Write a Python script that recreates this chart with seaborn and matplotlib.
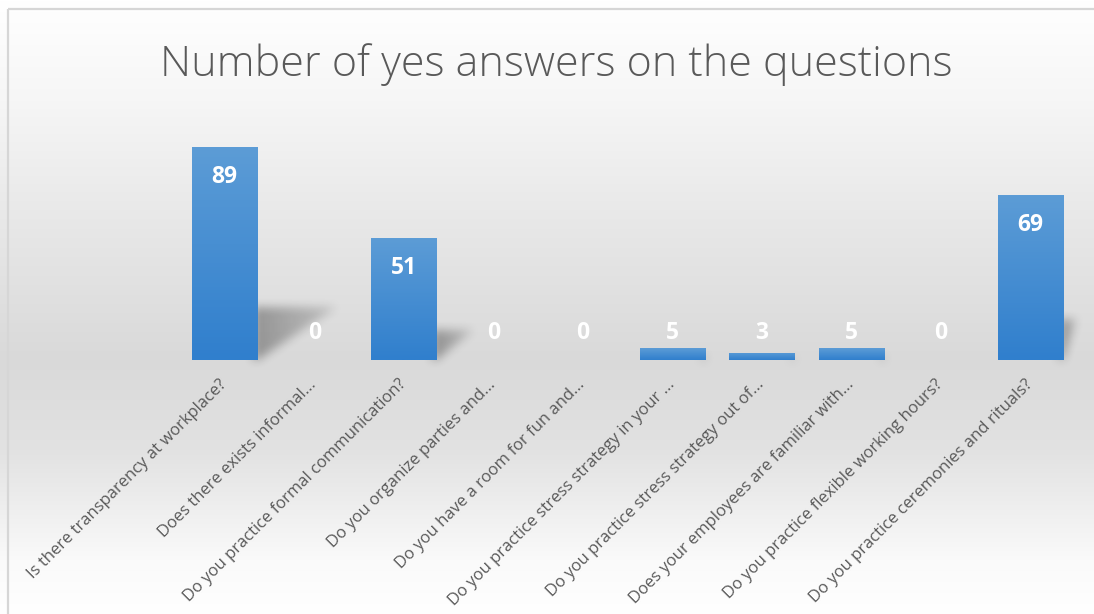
import numpy as np
import matplotlib
matplotlib.use("Agg")
import matplotlib.pyplot as plt
import seaborn as sns
from matplotlib.path import Path

# ---------------- data ----------------
questions = [
    "Is there transparency at workplace?",
    "Does there exists informal...",
    "Do you practice formal communication?",
    "Do you organize parties and...",
    "Do you have a room for fun and...",
    "Do you practice stress strategy in your ...",
    "Do you practice stress strategy out of...",
    "Does your employees are familiar with...",
    "Do you practice flexible working hours?",
    "Do you practice ceremonies and rituals?",
]
yes_counts = [89, 0, 51, 0, 0, 5, 3, 5, 0, 69]
title = "Number of yes answers on the questions"

# ---------------- style ----------------
sns.set_theme(style="white")
plt.rcParams["font.family"] = ["Open Sans", "DejaVu Sans"]

W, H = 1094, 614
fig = plt.figure(figsize=(W / 100, H / 100), dpi=100)

# background gradient (figure level)
bg = fig.add_axes([0, 0, 1, 1], zorder=-10)
bg.set_axis_off()
yy = np.arange(H)
prof_y = [0, 100, 200, 360, 450, 560, 614]
prof_v = [255, 246, 234, 217, 226, 250, 255]
col = np.interp(yy, prof_y, prof_v) / 255.0
grad = np.repeat(col[:, None], W, axis=1)
bg_img = np.dstack([grad, grad, grad])
bg.imshow(bg_img, extent=[0, W, 0, H], origin="upper", aspect="auto", zorder=0)
bg.set_xlim(0, W)
bg.set_ylim(0, H)
# frame lines
bg.plot([8, 8], [0, H - 9], color="#d6d6d6", lw=1.6, zorder=2, solid_capstyle="butt")
bg.plot([8, W], [H - 9, H - 9], color="#d6d6d6", lw=1.6, zorder=2, solid_capstyle="butt")

# main axes
ax = fig.add_axes([180 / W, (H - 360) / H, 895 / W, 239 / H])
ax.set_facecolor("none")
sns.barplot(x=questions, y=yes_counts, ax=ax, width=0.73, color="#4a8fd2",
            linewidth=0, saturation=1)
ax.set_xlim(-0.5, len(questions) - 0.5)
ax.set_ylim(0, 100)

# gradient fill for bars
top_c = np.array([92, 156, 214]) / 255.0
bot_c = np.array([48, 127, 205]) / 255.0
gv = np.linspace(0, 1, 64)[:, None]
bar_grad = (top_c[None, :] * (1 - gv) + bot_c[None, :] * gv)[:, None, :]
for p in ax.patches:
    x0, w, h = p.get_x(), p.get_width(), p.get_height()
    if h <= 0:
        continue
    p.set_facecolor("none")
    im = ax.imshow(bar_grad, extent=[x0, x0 + w, 0, h], origin="upper",
                   aspect="auto", zorder=2)
    im.set_clip_path(p)
ax.set_xlim(-0.5, len(questions) - 0.5)
ax.set_ylim(0, 100)

# shadows (figure-level blurred overlay)
alpha = np.zeros((H, W))
YY, XX = np.mgrid[0:H, 0:W]
pts = np.column_stack([XX.ravel() + 0.5, YY.ravel() + 0.5])
n = len(questions)
for i, p in enumerate(ax.patches):
    h = p.get_height()
    if h <= 0:
        continue
    (xl, yb), (xr, yt) = ax.transData.transform([(p.get_x(), 0),
                                                 (p.get_x() + p.get_width(), h)])
    hpx = yt - yb
    hs = 0.25 * hpx
    k = 1.5 - 0.13 * i
    dx = hs * k
    rb = H - yb
    rt = H - (yb + hs)
    poly = Path([(xr - 4, rb), (xr - 4, rt), (xr + dx, rt), (xr, rb)])
    m = poly.contains_points(pts).reshape(H, W).astype(float)
    fade = np.clip(1 - (XX - xr) / max(dx, 1) * 0.6, 0.3, 1)
    alpha = np.maximum(alpha, m * fade * 0.32)


def box_blur(a, r):
    kern = np.ones(2 * r + 1) / (2 * r + 1)
    a = np.apply_along_axis(lambda v: np.convolve(v, kern, mode="same"), 1, a)
    a = np.apply_along_axis(lambda v: np.convolve(v, kern, mode="same"), 0, a)
    return a


alpha = box_blur(box_blur(alpha, 5), 5)
shadow = np.zeros((H, W, 4))
shadow[..., 3] = alpha
bg.imshow(shadow, extent=[0, W, 0, H], origin="upper", aspect="auto", zorder=1)
bg.set_xlim(0, W)
bg.set_ylim(0, H)

# value labels
for i, v in enumerate(yes_counts):
    ypos = max(v - 12.5, 11.3)
    ax.text(i, ypos, str(v), ha="center", va="center", color="white",
            fontsize=16.5, fontweight="bold", zorder=5)

# axes cosmetics
for s in ax.spines.values():
    s.set_visible(False)
ax.set_yticks([])
ax.set_ylabel("")
ax.set_xlabel("")
ax.set_xticks(range(n))
ax.set_xticklabels(questions, rotation=45, ha="right", va="center",
                   rotation_mode="anchor", fontsize=12, color="#595959")
ax.tick_params(axis="x", length=0, pad=16)

fig.text(0.508, 1 - 76 / H, title, ha="center", va="baseline",
         fontsize=31, color="#595959", fontweight="light")

fig.savefig("out.png", dpi=100)
